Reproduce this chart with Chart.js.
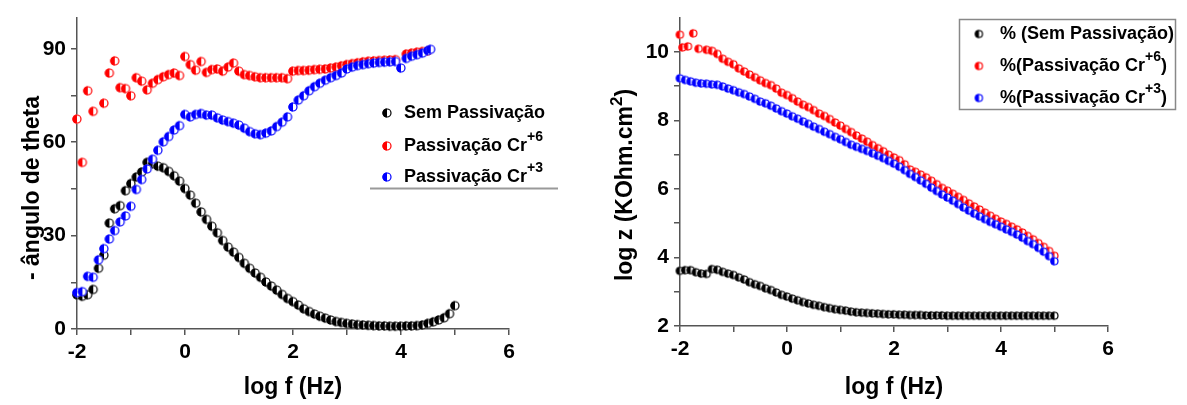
<!DOCTYPE html>
<html>
<head>
<meta charset="utf-8">
<script src="https://cdn.jsdelivr.net/npm/chart.js@4"></script>
<style>
html,body{margin:0;padding:0;background:#fff;}
#wrap{position:relative;width:1187px;height:405px;overflow:hidden;background:#fff;}
canvas{position:absolute;top:0;}
#cL{left:0;}
#cR{left:590px;}
</style>
</head>
<body>
<div id="wrap">
<canvas id="cL" width="590" height="405"></canvas>
<canvas id="cR" width="597" height="405"></canvas>
</div>
<script>
// ---------- DATA ----------
// Left panel: - phase angle vs log f
const leftSemX = [-2.0,-1.9,-1.8,-1.7,-1.6,-1.5,-1.4,-1.3,-1.2,-1.1,-1.0,-0.9,-0.8,-0.7,-0.6,-0.5,-0.4,-0.3,-0.2,-0.1,0.0,0.1,0.2,0.3,0.4,0.5,0.6,0.7,0.8,0.9,1.0,1.1,1.2,1.3,1.4,1.5,1.6,1.7,1.8,1.9,2.0,2.1,2.2,2.3,2.4,2.5,2.6,2.7,2.8,2.9,3.0,3.1,3.2,3.3,3.4,3.5,3.6,3.7,3.8,3.9,4.0,4.1,4.2,4.3,4.4,4.5,4.6,4.7,4.8,4.9,5.0];
const leftSem  = [11,10.5,11,12.7,19.5,23.7,34,38.6,39.6,44.4,46.7,48.8,50.4,53.5,53,52.3,51.8,50.6,49.2,47.5,45.1,43,40.4,37.6,35.2,33,30.9,28.4,26.3,24.7,23,21.1,19.5,18,16.6,15.1,13.8,12.5,11.1,9.8,8.8,7.7,6.5,5.6,4.8,4.1,3.5,2.9,2.4,2.1,1.8,1.6,1.4,1.3,1.2,1.1,1.0,1.0,0.9,0.9,0.9,1.0,1.0,1.1,1.3,1.8,2.3,2.9,3.6,4.9,7.5];

const leftCr6X = [-2.0,-1.9,-1.8,-1.7,-1.5,-1.4,-1.3,-1.2,-1.1,-1.0,-0.9,-0.8,-0.7,-0.6,-0.5,-0.4,-0.3,-0.2,-0.1,0.0,0.1,0.2,0.3,0.4,0.5,0.6,0.7,0.8,0.9,1.0,1.1,1.2,1.3,1.4,1.5,1.6,1.7,1.8,1.9,2.0,2.1,2.2,2.3,2.4,2.5,2.6,2.7,2.8,2.9,3.0,3.1,3.2,3.3,3.4,3.5,3.6,3.7,3.8,3.9,4.1,4.2,4.3,4.4,4.5];
const leftCr6  = [67.4,53.5,76.5,69.9,72.5,82.2,86.1,77.5,77.2,74.9,80.7,79.6,76.8,78.9,80.1,81,81.7,82.2,81.4,87.5,84.9,83.1,85.9,82.4,83.3,83.5,82.8,84.1,85.4,82.8,81.7,81.4,81,80.7,80.7,80.7,80.7,80.7,80.4,82.8,83,83,83.1,83.3,83.4,83.5,83.8,84.1,84.5,84.9,85.2,85.5,85.8,86,86.1,86.2,86.3,86.4,86.5,88.3,88.6,88.9,89.1,89.3];

const leftCr3X = [-2.0,-1.9,-1.8,-1.7,-1.6,-1.5,-1.4,-1.3,-1.2,-1.1,-1.0,-0.9,-0.8,-0.7,-0.6,-0.5,-0.4,-0.3,-0.2,-0.1,0.0,0.1,0.2,0.3,0.4,0.5,0.6,0.7,0.8,0.9,1.0,1.1,1.2,1.3,1.4,1.5,1.6,1.7,1.8,1.9,2.0,2.1,2.2,2.3,2.4,2.5,2.6,2.7,2.8,2.9,3.0,3.1,3.2,3.3,3.4,3.5,3.6,3.7,3.8,3.9,4.0,4.1,4.2,4.3,4.4,4.5,4.55];
const leftCr3  = [11.7,12,16.9,16.6,22.2,25.8,28.9,31.6,34.4,36.3,39.4,44.8,48,51.4,54.5,57.4,60.1,61.8,63.9,65.3,68.9,68.1,68.9,69.2,68.7,68.7,67.8,67.1,66.6,66.1,65.5,64.5,63.4,62.7,62.4,62.9,63.6,65,66.4,68.1,71.3,73.5,74.9,76.5,77.8,78.9,79.9,80.7,81.4,82.2,83.5,84.1,84.6,84.9,85.2,85.4,85.6,85.7,85.8,85.9,83.8,86.9,87.6,88.1,88.6,89.4,89.8];

// Right panel: log |Z| vs log f
const rightX = [-2.0,-1.9,-1.8,-1.7,-1.6,-1.5,-1.4,-1.3,-1.2,-1.1,-1.0,-0.9,-0.8,-0.7,-0.6,-0.5,-0.4,-0.3,-0.2,-0.1,0.0,0.1,0.2,0.3,0.4,0.5,0.6,0.7,0.8,0.9,1.0,1.1,1.2,1.3,1.4,1.5,1.6,1.7,1.8,1.9,2.0,2.1,2.2,2.3,2.4,2.5,2.6,2.7,2.8,2.9,3.0,3.1,3.2,3.3,3.4,3.5,3.6,3.7,3.8,3.9,4.0,4.1,4.2,4.3,4.4,4.5,4.6,4.7,4.8,4.9,5.0];
const rightSem = [3.61,3.63,3.63,3.57,3.53,3.52,3.66,3.64,3.58,3.53,3.49,3.42,3.36,3.28,3.22,3.17,3.1,3.05,2.98,2.91,2.86,2.8,2.75,2.7,2.66,2.62,2.59,2.55,2.52,2.49,2.47,2.45,2.42,2.4,2.39,2.38,2.37,2.36,2.35,2.34,2.34,2.33,2.33,2.32,2.32,2.32,2.31,2.31,2.31,2.31,2.3,2.3,2.3,2.3,2.3,2.3,2.3,2.3,2.3,2.3,2.3,2.3,2.3,2.3,2.3,2.3,2.3,2.3,2.3,2.3,2.3];
const rightCr6X = [-2.0,-1.95,-1.85,-1.75,-1.65,-1.5,-1.4,-1.3,-1.2,-1.1,-1.0,-0.9,-0.8,-0.7,-0.6,-0.5,-0.4,-0.3,-0.2,-0.1,0.0,0.1,0.2,0.3,0.4,0.5,0.6,0.7,0.8,0.9,1.0,1.1,1.2,1.3,1.4,1.5,1.6,1.7,1.8,1.9,2.0,2.1,2.2,2.3,2.4,2.5,2.6,2.7,2.8,2.9,3.0,3.1,3.2,3.3,3.4,3.5,3.6,3.7,3.8,3.9,4.0,4.1,4.2,4.3,4.4,4.5,4.6,4.7,4.8,4.9,5.0];
const rightCr6 = [10.5,10.13,10.16,10.54,10.09,10.06,10.03,9.94,9.8,9.71,9.64,9.52,9.43,9.34,9.26,9.17,9.09,9.03,8.93,8.81,8.74,8.65,8.55,8.46,8.39,8.3,8.2,8.13,8.04,7.94,7.85,7.75,7.66,7.56,7.47,7.38,7.28,7.19,7.1,7.0,6.92,6.84,6.72,6.57,6.5,6.42,6.34,6.24,6.14,6.03,5.95,5.86,5.77,5.68,5.58,5.49,5.4,5.31,5.22,5.13,5.05,4.98,4.9,4.82,4.73,4.63,4.53,4.42,4.31,4.19,4.05];
const rightCr3 = [9.23,9.18,9.14,9.1,9.08,9.07,9.05,9.04,8.99,8.93,8.88,8.82,8.77,8.7,8.63,8.55,8.5,8.43,8.35,8.27,8.2,8.12,8.05,7.97,7.9,7.82,7.75,7.67,7.6,7.52,7.45,7.37,7.29,7.23,7.17,7.11,7.04,6.97,6.9,6.82,6.74,6.65,6.55,6.44,6.35,6.25,6.15,6.04,5.94,5.84,5.75,5.66,5.56,5.46,5.37,5.28,5.2,5.12,5.04,4.97,4.9,4.82,4.75,4.67,4.58,4.48,4.39,4.28,4.17,4.04,3.89];

// Tick values
const xTicks = [-2,-1,0,1,2,3,4,5,6];
const leftYTicks = [0,15,30,45,60,75,90];
const rightYTicks = [2,3,4,5,6,7,8,9,10];

// ---------- helpers ----------
const FONT = "'Liberation Sans', Arial, sans-serif";
const AXIS_COLOR = '#555';
function pts(xs, ys){ return xs.map((x,i)=>({x:x, y:ys[i]})); }
function marker(color, r){
  const s = Math.ceil(2*r+2);
  const c = document.createElement('canvas'); c.width = s; c.height = s;
  const g = c.getContext('2d'); const cx = s/2, cy = s/2;
  g.fillStyle = '#fff'; g.beginPath(); g.arc(cx,cy,r,0,2*Math.PI); g.fill();
  g.fillStyle = color; g.beginPath(); g.arc(cx,cy,r,Math.PI/2,3*Math.PI/2); g.closePath(); g.fill();
  g.strokeStyle = color; g.lineWidth = 1.2; g.beginPath(); g.arc(cx,cy,r-0.6,0,2*Math.PI); g.stroke();
  return c;
}
function scaleOpts(ticks, min, max, labelFn, fitFn, fontSize){
  return {
    type:'linear', min:min, max:max,
    afterBuildTicks: s => { s.ticks = ticks.map(v=>({value:v})); },
    afterFit: fitFn,
    ticks:{ font:{family:FONT, size:fontSize, weight:'bold'}, color:'#000', padding:5,
            autoSkip:false, maxRotation:0, callback: labelFn },
    grid:{ display:true, drawOnChartArea:false, drawTicks:true, tickLength:6, color:AXIS_COLOR, lineWidth:1.5 },
    border:{ display:true, color:AXIS_COLOR, width:1.5 }
  };
}
function drawSup(ctx, parts, x, y, align){
  const big = ctx.font;
  let w = 0;
  parts.forEach(p=>{ ctx.font = p.sup ? p.supFont : big; p.w = ctx.measureText(p.t).width; w += p.w; });
  let cx = align==='center' ? x - w/2 : x;
  parts.forEach(p=>{
    ctx.font = p.sup ? p.supFont : big;
    ctx.textAlign = 'left';
    ctx.fillText(p.t, cx, p.sup ? y - p.rise : y);
    cx += p.w;
  });
  ctx.font = big;
}

const mkBlack = marker('#000', 4.6), mkRed = marker('#ff0000', 4.6), mkBlue = marker('#0000ff', 4.6);
const mkBlackR = marker('#000', 4.1), mkRedR = marker('#ff0000', 4.1), mkBlueR = marker('#0000ff', 4.1);

// ---------- left chart ----------
const leftDecor = {
  id:'leftDecor',
  afterDraw(chart){
    const ctx = chart.ctx; ctx.save();
    ctx.fillStyle = '#000';
    ctx.font = `bold 23px ${FONT}`; ctx.textAlign='center'; ctx.textBaseline='middle';
    const ca = chart.chartArea;
    ctx.fillText('log f (Hz)', (ca.left+ca.right)/2, 388);
    ctx.save(); ctx.translate(33, 188); ctx.rotate(-Math.PI/2);
    ctx.fillText('- ângulo de theta', 0, 0); ctx.restore();
    // legend
    ctx.textBaseline='middle';
    ctx.font = `bold 18px ${FONT}`;
    const sf = `bold 14px ${FONT}`;
    const items = [
      {mk:mkBlack, y:113, parts:[{t:'Sem Passivação'}]},
      {mk:mkRed, y:146, parts:[{t:'Passivação Cr'},{t:'+6',sup:true,supFont:sf,rise:9}]},
      {mk:mkBlue, y:177, parts:[{t:'Passivação Cr'},{t:'+3',sup:true,supFont:sf,rise:9}]}
    ];
    items.forEach(it=>{
      ctx.drawImage(it.mk, 387 - it.mk.width/2, it.y - it.mk.height/2);
      drawSup(ctx, it.parts, 404, it.y, 'left');
    });
    ctx.strokeStyle = '#999'; ctx.lineWidth = 2;
    ctx.beginPath(); ctx.moveTo(370, 188.5); ctx.lineTo(558, 188.5); ctx.stroke();
    ctx.restore();
  }
};

new Chart(document.getElementById('cL'), {
  type:'scatter',
  data:{ datasets:[
    {label:'Sem Passivação', data:pts(leftSemX,leftSem), pointStyle:mkBlack, pointRadius:4.6, order:3, clip:false},
    {label:'Passivação Cr+6', data:pts(leftCr6X,leftCr6), pointStyle:mkRed, pointRadius:4.6, order:2, clip:false},
    {label:'Passivação Cr+3', data:pts(leftCr3X,leftCr3), pointStyle:mkBlue, pointRadius:4.6, order:1, clip:false}
  ]},
  options:{
    animation:false, responsive:false, devicePixelRatio:1,
    layout:{ padding:{top:10, right:81, left:0, bottom:0} },
    plugins:{ legend:{display:false}, tooltip:{enabled:false} },
    events:[],
    scales:{
      x: scaleOpts(xTicks, -2, 6, v => (v%2===0 ? String(v) : ''), s => { s.height = 76; }, 21),
      y: scaleOpts(leftYTicks, 0, 100, v => (v%30===0 ? String(v) : ''), s => { s.width = 77; }, 21)
    }
  },
  plugins:[leftDecor]
});

// ---------- right chart ----------
const rightDecor = {
  id:'rightDecor',
  afterDraw(chart){
    const ctx = chart.ctx; ctx.save();
    ctx.fillStyle = '#000';
    ctx.font = `bold 23px ${FONT}`; ctx.textBaseline='middle';
    const ca = chart.chartArea;
    ctx.textAlign='center';
    ctx.fillText('log f (Hz)', (ca.left+ca.right)/2, 388);
    ctx.save(); ctx.translate(36, 185); ctx.rotate(-Math.PI/2);
    drawSup(ctx, [{t:'log z (KOhm.cm'},{t:'2',sup:true,supFont:`bold 17px ${FONT}`,rise:9},{t:')'}], 0, 0, 'center');
    ctx.restore();
    // legend box
    ctx.strokeStyle = '#888'; ctx.lineWidth = 1.5;
    ctx.strokeRect(369.5, 19.5, 216, 90);
    ctx.font = `bold 18px ${FONT}`;
    const sf = `bold 14px ${FONT}`;
    const items = [
      {mk:mkBlackR, y:34, parts:[{t:'% (Sem Passivação)'}]},
      {mk:mkRedR, y:66, parts:[{t:'%(Passivação Cr'},{t:'+6',sup:true,supFont:sf,rise:9},{t:')'}]},
      {mk:mkBlueR, y:98, parts:[{t:'%(Passivação Cr'},{t:'+3',sup:true,supFont:sf,rise:9},{t:')'}]}
    ];
    items.forEach(it=>{
      ctx.drawImage(it.mk, 389 - it.mk.width/2, it.y - it.mk.height/2);
      drawSup(ctx, it.parts, 410, it.y, 'left');
    });
    ctx.restore();
  }
};

new Chart(document.getElementById('cR'), {
  type:'scatter',
  data:{ datasets:[
    {label:'% (Sem Passivação)', data:pts(rightX,rightSem), pointStyle:mkBlackR, pointRadius:4.1, order:3, clip:false},
    {label:'%(Passivação Cr+6)', data:pts(rightCr6X,rightCr6), pointStyle:mkRedR, pointRadius:4.1, order:2, clip:false},
    {label:'%(Passivação Cr+3)', data:pts(rightX,rightCr3), pointStyle:mkBlueR, pointRadius:4.1, order:1, clip:false}
  ]},
  options:{
    animation:false, responsive:false, devicePixelRatio:1,
    layout:{ padding:{top:7, right:79, left:0, bottom:0} },
    plugins:{ legend:{display:false}, tooltip:{enabled:false} },
    events:[],
    scales:{
      x: scaleOpts(xTicks, -2, 6, v => (v%2===0 ? String(v) : ''), s => { s.height = 79; }, 21),
      y: scaleOpts(rightYTicks, 2, 11, v => (v%2===0 ? String(v) : ''), s => { s.width = 90; }, 21)
    }
  },
  plugins:[rightDecor]
});
</script>
</body>
</html>
